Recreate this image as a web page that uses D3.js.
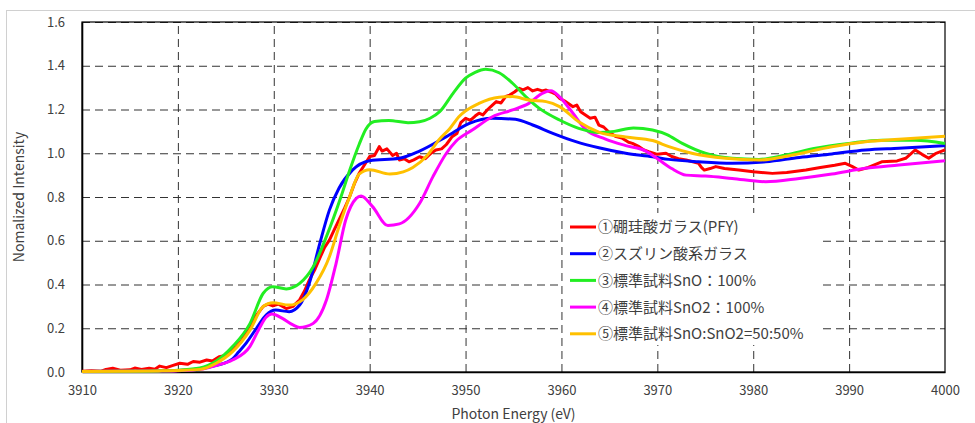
<!DOCTYPE html>
<html>
<head>
<meta charset="utf-8">
<title>XANES Sn L-edge</title>
<script src="https://d3js.org/d3.v7.min.js"></script>
<style>
  body { margin: 0; background: #fff; }
  text { font-family: "Noto Sans CJK JP", "Noto Sans", sans-serif; }
</style>
</head>
<body>
<div id="chart"></div>
<script>
// ---- data (energy eV, normalized intensity) ----
const xTicks = [3910, 3920, 3930, 3940, 3950, 3960, 3970, 3980, 3990, 4000];
const yTicks = [0.0, 0.2, 0.4, 0.6, 0.8, 1.0, 1.2, 1.4, 1.6];

const seriesNames = ["①硼珪酸ガラス(PFY)", "②スズリン酸系ガラス", "③標準試料SnO：100%", "④標準試料SnO2：100%", "⑤標準試料SnO:SnO2=50:50%"];
const seriesColors = ["#ff0000", "#0000ff", "#22ee22", "#ff00ff", "#ffc000"];

const pfy = [[3910,0.003],[3911,0.006],[3912,0.004],[3912.5,0.012],[3913.2,0.017],[3914,0.008],[3915,0.01],[3915.5,0.018],[3916.2,0.012],[3917,0.017],[3917.6,0.013],[3918.1,0.027],[3918.8,0.02],[3919.5,0.03],[3920.2,0.04],[3921,0.035],[3921.6,0.048],[3922.3,0.045],[3923,0.055],[3923.6,0.05],[3924.3,0.07],[3925,0.075],[3925.7,0.105],[3926.1,0.116],[3926.6,0.14],[3927.1,0.177],[3927.5,0.207],[3928.2,0.26],[3928.9,0.30],[3929.4,0.31],[3929.9,0.302],[3930.5,0.31],[3931.3,0.29],[3932,0.3],[3932.7,0.33],[3933.2,0.37],[3933.7,0.42],[3934.3,0.47],[3934.8,0.52],[3935.3,0.57],[3935.8,0.603],[3936.3,0.65],[3936.8,0.695],[3937.4,0.75],[3937.9,0.80],[3938.4,0.86],[3938.9,0.908],[3939.5,0.95],[3940,0.985],[3940.5,0.99],[3941,1.03],[3941.3,1.01],[3941.8,1.02],[3942.4,0.99],[3942.8,1.0],[3943.1,0.969],[3943.6,0.975],[3944.1,0.961],[3944.6,0.97],[3945.2,0.984],[3945.8,0.975],[3946.4,1.0],[3946.9,1.015],[3947.5,1.02],[3948,1.04],[3948.6,1.076],[3949.1,1.09],[3949.5,1.14],[3950,1.16],[3950.5,1.15],[3951,1.17],[3951.4,1.183],[3951.8,1.175],[3952.3,1.2],[3952.8,1.22],[3953.2,1.236],[3953.7,1.23],[3954.2,1.26],[3954.6,1.266],[3955.1,1.28],[3955.6,1.297],[3956,1.29],[3956.5,1.3],[3957,1.285],[3957.5,1.292],[3958,1.285],[3958.4,1.289],[3958.9,1.28],[3959.4,1.27],[3959.8,1.251],[3960.3,1.24],[3960.8,1.225],[3961.2,1.213],[3961.6,1.22],[3962,1.19],[3962.5,1.175],[3963,1.16],[3963.5,1.165],[3963.9,1.129],[3964.4,1.12],[3965,1.095],[3965.7,1.076],[3966.3,1.07],[3967,1.05],[3967.4,1.045],[3968.1,1.03],[3968.6,1.015],[3969.1,1.007],[3970,0.995],[3970.9,1.0],[3971.5,0.985],[3972.2,0.975],[3973,0.969],[3974.3,0.954],[3974.6,0.935],[3974.9,0.923],[3975.5,0.93],[3976.1,0.939],[3977,0.93],[3978.5,0.923],[3980,0.915],[3982,0.908],[3983.5,0.912],[3985.5,0.923],[3987,0.935],[3988.5,0.945],[3989.6,0.954],[3990.3,0.94],[3991,0.923],[3992,0.935],[3993.4,0.961],[3995,0.965],[3995.9,0.977],[3996.9,1.015],[3997.6,0.995],[3998.3,0.977],[3999,0.998],[4000,1.015]];

const snpGlass = [[3910,0.002],[3914,0.003],[3918,0.005],[3920,0.007],[3922.3,0.015],[3924,0.03],[3925.7,0.06],[3926.3,0.09],[3927.1,0.131],[3928.2,0.2],[3929.2,0.26],[3930.2,0.283],[3931.6,0.276],[3932.7,0.306],[3933.7,0.405],[3934.8,0.588],[3935.8,0.74],[3936.8,0.84],[3938.2,0.923],[3940,0.966],[3943.1,0.977],[3945.2,1.01],[3948,1.076],[3950.4,1.137],[3952.8,1.16],[3955.2,1.155],[3957,1.129],[3959.1,1.091],[3961.5,1.053],[3963.9,1.025],[3966.7,1.0],[3969.5,0.984],[3971.2,0.972],[3974.3,0.961],[3977.8,0.954],[3981.3,0.961],[3984.8,0.981],[3988.2,0.997],[3991.7,1.015],[3995.2,1.023],[4000,1.035]];

const sno = [[3910,0.002],[3914,0.003],[3918,0.005],[3920,0.008],[3922.3,0.018],[3924,0.05],[3925.7,0.116],[3927.5,0.22],[3928.9,0.36],[3929.9,0.39],[3931.3,0.38],[3932.7,0.405],[3934.1,0.48],[3935.5,0.62],[3937,0.80],[3937.9,0.92],[3938.9,1.04],[3939.6,1.11],[3940.5,1.145],[3942,1.15],[3944,1.14],[3945.2,1.144],[3946.3,1.16],[3947.3,1.19],[3948.7,1.274],[3950,1.343],[3951,1.37],[3952.1,1.384],[3953.5,1.368],[3954.9,1.32],[3956.3,1.258],[3957.7,1.205],[3959.8,1.152],[3961.8,1.114],[3963.9,1.095],[3965.5,1.1],[3967.5,1.116],[3969.5,1.106],[3971,1.085],[3972.6,1.045],[3975,1.0],[3977.8,0.977],[3980.6,0.972],[3983.4,0.992],[3986.5,1.023],[3990,1.045],[3993.4,1.06],[3996.9,1.06],[4000,1.045]];

const sno2 = [[3910,0.002],[3914,0.003],[3918,0.004],[3920,0.006],[3922.3,0.012],[3924,0.03],[3925.7,0.055],[3927.5,0.116],[3928.5,0.2],[3929.2,0.25],[3929.8,0.265],[3930.9,0.245],[3932,0.215],[3932.7,0.204],[3934.1,0.222],[3935.5,0.33],[3936.5,0.497],[3937.5,0.695],[3938.6,0.794],[3939.1,0.805],[3940.3,0.756],[3941.9,0.67],[3943.1,0.677],[3945.2,0.77],[3946.6,0.893],[3948,1.0],[3949,1.055],[3950.7,1.106],[3952.8,1.167],[3954.9,1.198],[3956.6,1.228],[3958,1.274],[3958.9,1.286],[3959.8,1.258],[3961.2,1.183],[3962.5,1.11],[3964.6,1.065],[3966.7,1.035],[3968.8,1.01],[3970.2,0.969],[3971.5,0.93],[3973,0.90],[3975,0.896],[3977.8,0.885],[3981.3,0.87],[3984.8,0.885],[3988.2,0.905],[3991.7,0.931],[3995.2,0.946],[4000,0.966]];

const mix5050 = [[3910,0.002],[3914,0.003],[3918,0.005],[3920,0.007],[3922.3,0.012],[3924,0.04],[3925.7,0.093],[3927.5,0.19],[3928.9,0.30],[3929.9,0.317],[3931.6,0.306],[3933,0.33],[3934.4,0.405],[3935.8,0.527],[3936.8,0.664],[3937.9,0.80],[3938.9,0.905],[3940,0.925],[3942.1,0.905],[3943.5,0.915],[3944.5,0.935],[3946,0.99],[3947.3,1.065],[3948.3,1.11],[3949.3,1.167],[3951.4,1.228],[3953.5,1.256],[3954.9,1.259],[3956.6,1.243],[3958.4,1.236],[3959.8,1.213],[3961.8,1.144],[3963.9,1.097],[3966.7,1.074],[3969.5,1.058],[3971.2,1.03],[3973.6,1.0],[3977.1,0.977],[3980.6,0.969],[3984.1,0.992],[3988.2,1.03],[3991.7,1.053],[3995.2,1.064],[4000,1.078]];

// ---- layout ----
let W = 975, H = 423;
let margin = {top: 22, right: 30, bottom: 51, left: 82};
let w = 945 - margin.left;   // plot right edge at x=945
let h = H - margin.top - margin.bottom;

let svg = d3.select("#chart").append("svg")
    .attr("width", W)
    .attr("height", H);

// outer chart frame
svg.append("rect")
    .attr("x", 6.5).attr("y", 10.5)
    .attr("width", 1000).attr("height", 500)
    .attr("fill", "none")
    .attr("stroke", "#d0d0d0");

let g = svg.append("g")
    .attr("transform", "translate(" + margin.left + "," + margin.top + ")");

let xScale = d3.scaleLinear().domain([3910, 4000]).range([0, w]);
let yScale = d3.scaleLinear().domain([0, 1.6]).range([h, 0]);

// dashed grid
g.append("g")
    .attr("class", "grid")
    .attr("transform", "translate(0," + h + ")")
    .call(d3.axisBottom(xScale).tickValues(xTicks.slice(1, -1)).tickSize(-h).tickFormat(""))
    .call(s => s.select(".domain").remove())
    .call(s => s.selectAll("line").attr("stroke", "#333").attr("stroke-dasharray", "8,5"));

g.append("g")
    .attr("class", "grid")
    .call(d3.axisLeft(yScale).tickValues(yTicks.slice(1)).tickSize(-w).tickFormat(""))
    .call(s => s.select(".domain").remove())
    .call(s => s.selectAll("line").attr("stroke", "#333").attr("stroke-dasharray", "8,5"));

// plot border
g.append("rect")
    .attr("width", w).attr("height", h)
    .attr("fill", "none")
    .attr("stroke", "#000")
    .attr("stroke-width", 1.2);

// axes (labels only)
let xAxis = g.append("g")
    .attr("transform", "translate(0," + h + ")")
    .call(d3.axisBottom(xScale).tickValues(xTicks).tickSize(0).tickPadding(14).tickFormat(d3.format("d")));
xAxis.select(".domain").attr("stroke", "#000").attr("stroke-width", 1.6);
xAxis.selectAll("text").attr("font-size", "13px").attr("fill", "#404040")
    .style("font-family", "'Noto Sans CJK JP', sans-serif");

let yAxis = g.append("g")
    .call(d3.axisLeft(yScale).tickValues(yTicks).tickSize(0).tickPadding(17).tickFormat(d3.format(".1f")));
yAxis.select(".domain").attr("stroke", "#000").attr("stroke-width", 1.6);
yAxis.selectAll("text").attr("font-size", "13px").attr("fill", "#404040")
    .style("font-family", "'Noto Sans CJK JP', sans-serif");

// legend background covers the grid under it
let legend = g.append("g").attr("transform", "translate(" + (563 - margin.left) + "," + (213 - margin.top) + ")");
legend.append("rect")
    .attr("width", 257).attr("height", 132)
    .attr("fill", "#fff");

// curves
let line = d3.line()
    .x(d => xScale(d[0]))
    .y(d => yScale(d[1]));

let series = [pfy, snpGlass, sno, sno2, mix5050];
let drawOrder = [0, 1, 3, 2, 4];
drawOrder.forEach(function(i) {
    g.append("path")
        .datum(series[i])
        .attr("fill", "none")
        .attr("stroke", seriesColors[i])
        .attr("stroke-width", 3)
        .attr("stroke-linejoin", "round")
        .attr("d", line.curve(i === 0 ? d3.curveLinear : d3.curveMonotoneX));
});

// legend entries
seriesNames.forEach(function(name, i) {
    let yy = 14 + i * 26.7;
    legend.append("line")
        .attr("x1", 7).attr("x2", 33)
        .attr("y1", yy).attr("y2", yy)
        .attr("stroke", seriesColors[i])
        .attr("stroke-width", 3);
    legend.append("text")
        .attr("x", 35).attr("y", yy)
        .attr("dy", "0.36em")
        .attr("font-size", "15px")
        .attr("fill", "#404040")
        .text(name);
});

// axis titles
svg.append("text")
    .attr("x", margin.left + w / 2)
    .attr("y", 419)
    .style("text-anchor", "middle")
    .attr("font-size", "14px")
    .attr("fill", "#404040")
    .text("Photon Energy (eV)");

svg.append("text")
    .attr("transform", "translate(19," + (margin.top + h / 2) + ") rotate(-90)")
    .attr("dy", "0.36em")
    .style("text-anchor", "middle")
    .attr("font-size", "14px")
    .attr("fill", "#404040")
    .text("Nomalized Intensity");
</script>
</body>
</html>
